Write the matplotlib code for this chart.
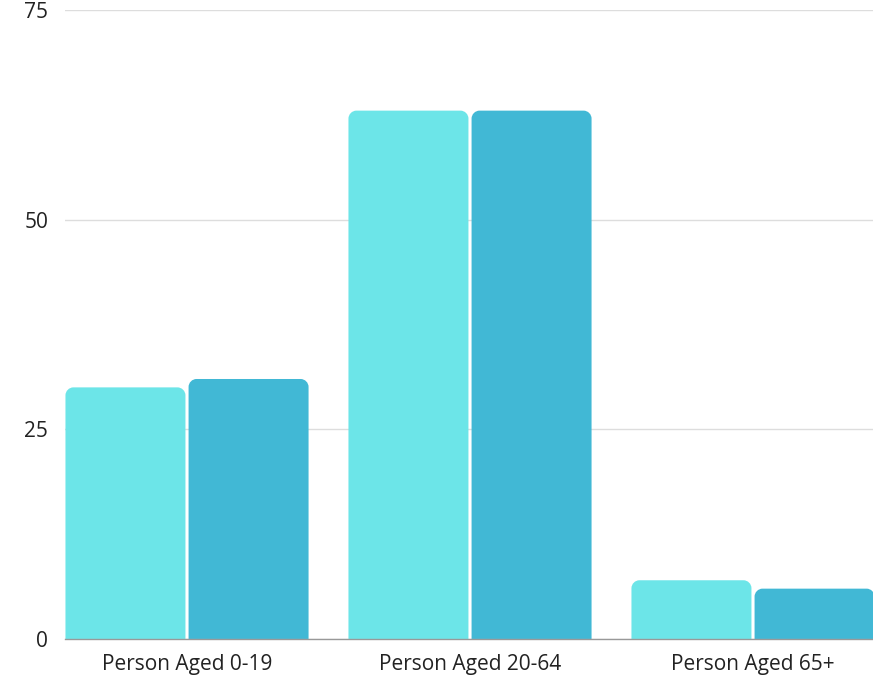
import matplotlib
matplotlib.use("Agg")
import matplotlib.pyplot as plt
import numpy as np
from matplotlib.path import Path
from matplotlib.patches import PathPatch

categories = ["Person Aged 0-19", "Person Aged 20-64", "Person Aged 65+"]
series_a = [30, 63, 7]
series_b = [31, 63, 6]
yticks = [0, 25, 50, 75]

plt.rcParams['font.family'] = ['Open Sans', 'DejaVu Sans']

fig = plt.figure(figsize=(8.73, 6.85), dpi=100)
ax = fig.add_axes([0.0745, 0.0672, 0.9255, 0.9182])

x = np.arange(len(categories))
w = 0.424
gap = 0.011
bars_a = ax.bar(x - w / 2 - gap / 2, series_a, width=w, color="#6CE5E8")
bars_b = ax.bar(x + w / 2 + gap / 2, series_b, width=w, color="#41B8D5")

ax.set_xlim(-0.431, 2.424)
ax.set_ylim(0, 75)
fig.canvas.draw()

def rounded(rect, r_px=8):
    x0, y0 = rect.get_x(), rect.get_y()
    x1, y1 = x0 + rect.get_width(), y0 + rect.get_height()
    p0 = ax.transData.transform((0, 0))
    px = ax.transData.transform((1, 1)) - p0
    rx = r_px / px[0]
    ry = min(r_px / px[1], (y1 - y0))
    k = 0.5523
    verts = [
        (x0, y0), (x0, y1 - ry),
        (x0, y1 - ry + k * ry), (x0 + rx - k * rx, y1), (x0 + rx, y1),
        (x1 - rx, y1),
        (x1 - rx + k * rx, y1), (x1, y1 - ry + k * ry), (x1, y1 - ry),
        (x1, y0), (x0, y0),
    ]
    codes = [Path.MOVETO, Path.LINETO,
             Path.CURVE4, Path.CURVE4, Path.CURVE4,
             Path.LINETO,
             Path.CURVE4, Path.CURVE4, Path.CURVE4,
             Path.LINETO, Path.CLOSEPOLY]
    patch = PathPatch(Path(verts, codes), facecolor=rect.get_facecolor(),
                      edgecolor='none', zorder=2, clip_on=True)
    ax.add_patch(patch)
    rect.set_visible(False)

for r in list(bars_a) + list(bars_b):
    rounded(r)

ax.set_yticks(yticks)
ax.set_yticklabels([str(t) for t in yticks], fontsize=15, color="#222222")
ax.set_xticks(x)
ax.set_xticklabels(categories, fontsize=15, color="#222222")
ax.tick_params(axis='both', length=0)
ax.tick_params(axis='y', pad=12)
ax.tick_params(axis='x', pad=11)

ax.yaxis.grid(True, color="#dddddd", linewidth=1)
ax.set_axisbelow(True)
for s in ["top", "right", "left"]:
    ax.spines[s].set_visible(False)
ax.spines["bottom"].set_color("#999999")
ax.spines["bottom"].set_linewidth(1)
ax.spines["bottom"].set_zorder(3)

fig.savefig("out.png", dpi=100)
